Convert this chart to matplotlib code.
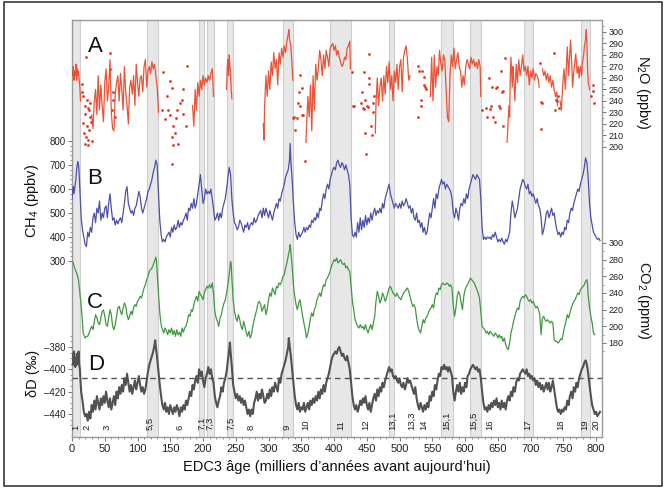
import numpy as np
import matplotlib
matplotlib.use("Agg")
import matplotlib.pyplot as plt
from matplotlib.ticker import FixedLocator, MultipleLocator, NullFormatter, FuncFormatter
from matplotlib.patches import Rectangle

plt.rcParams['font.family'] = ['Liberation Sans', 'DejaVu Sans']
plt.rcParams['mathtext.default'] = 'regular'

# ---------------- data (age in kyr BP) ----------------
interglacials = [(0, 12), (114, 132), (194, 201), (206, 216), (237, 245), (322, 337),
                 (394, 426), (484, 491), (563, 581), (607, 625), (690, 704), (777, 791)]

stage_names = ["1", "2", "3", "5,5", "6", "7,1", "7,3", "7,5", "8", "9", "10", "11", "12",
               "13,1", "13,3", "14", "15,1", "15,5", "16", "17", "18", "19", "20"]
stage_ages = [6, 23, 53, 119, 165, 198, 210, 243, 274, 328, 357, 411, 448,
              489, 518, 537, 572, 613, 638, 695, 746, 782, 800]

dD_reference = -407.5

n2o_segments = [
    [(0, 265), (1, 262), (2, 270), (3, 258), (4, 266), (5, 262), (6, 272), (7, 258), (8, 268),
     (9, 262), (10, 266), (11, 258), (12, 252), (13, 240)],
    [(30, 228), (32, 216), (34, 240), (36, 250), (38, 228), (40, 262), (42, 232), (44, 254),
     (46, 236), (48, 222), (50, 256), (52, 268), (54, 240), (56, 252), (58, 276), (60, 230),
     (62, 216), (64, 214), (66, 246), (68, 256), (70, 262), (72, 240), (74, 264), (76, 250),
     (78, 232), (80, 270), (82, 248), (84, 236), (86, 220), (88, 252), (90, 258), (92, 246),
     (94, 262), (96, 236), (98, 272), (100, 256), (102, 244), (104, 260), (106, 262), (108, 248),
     (110, 270), (112, 276), (114, 252), (116, 266), (118, 270), (120, 264), (122, 274),
     (124, 268), (126, 272), (128, 262), (130, 252), (131, 242), (132, 230)],
    [(184, 236), (186, 218), (188, 250), (190, 232), (192, 256), (194, 244), (196, 258),
     (198, 250), (200, 262), (202, 254), (204, 260), (206, 256), (208, 262), (210, 258),
     (212, 264), (214, 268), (215, 258), (216, 244)],
    [(236, 250), (237, 270), (238, 276), (239, 262), (240, 280), (241, 270), (242, 264),
     (243, 250), (244, 242)],
    [(292, 220), (293, 206), (294, 236), (296, 262), (298, 244), (300, 266), (302, 250),
     (304, 274), (306, 262), (308, 282), (310, 268), (312, 276), (314, 254), (316, 282),
     (318, 272), (320, 286), (322, 278), (324, 288), (326, 282), (328, 292), (330, 298),
     (331, 302), (332, 294), (334, 288), (336, 270), (337, 258)],
    [(357, 204), (358, 218), (360, 244), (362, 226), (364, 254), (366, 214), (368, 262),
     (370, 232), (372, 272), (374, 258), (376, 268), (378, 284), (380, 276), (382, 262),
     (384, 280), (386, 268), (388, 284), (390, 278), (392, 270), (394, 286), (396, 288),
     (398, 290), (400, 284), (402, 288), (404, 280), (406, 284), (408, 278), (410, 274),
     (412, 270), (414, 272), (416, 278), (418, 276), (420, 286), (422, 288), (424, 292),
     (425, 268)],
    [(463, 212), (464, 238), (466, 260), (468, 236), (470, 252), (472, 260), (474, 240),
     (476, 262), (478, 246), (480, 270), (482, 256), (484, 274), (486, 250), (488, 262),
     (490, 240), (492, 266), (494, 256), (496, 272), (498, 250), (500, 270), (502, 276),
     (504, 248), (506, 278), (508, 284), (510, 288), (512, 276), (514, 258), (516, 262)],
    [(547, 244), (549, 278), (551, 240), (553, 280), (555, 252), (557, 270), (559, 262),
     (561, 284), (563, 272), (565, 266), (567, 280), (569, 276), (571, 252), (573, 226),
     (575, 222), (577, 262), (579, 280), (581, 270), (583, 286), (585, 268), (587, 276),
     (589, 282), (591, 270), (593, 266), (595, 252), (597, 262), (599, 254), (601, 270),
     (603, 276), (605, 272), (607, 268), (609, 278), (611, 272), (613, 276), (615, 270),
     (617, 274), (619, 268), (621, 276), (623, 270), (624, 244)],
    [(664, 204), (665, 214), (667, 236), (668, 226), (669, 262), (670, 278), (672, 252),
     (673, 270), (674, 262), (676, 240), (678, 272), (680, 256), (682, 276), (684, 262),
     (686, 270), (688, 280), (690, 266), (692, 270), (694, 262), (696, 270), (698, 254),
     (700, 266), (702, 260), (704, 268), (706, 258), (708, 264), (710, 262), (712, 258),
     (713, 252)],
    [(718, 268), (720, 262), (722, 266), (724, 258), (726, 264), (728, 256), (730, 262),
     (732, 252), (734, 258), (736, 250), (738, 244), (740, 248), (741, 236)],
    [(745, 240), (747, 232), (749, 254), (751, 268), (753, 250), (755, 276), (756, 287),
     (758, 262), (760, 282), (761, 293), (763, 270), (764, 252), (766, 266), (768, 276),
     (769, 281), (771, 264), (773, 270), (774, 260), (776, 270), (778, 262), (779, 273),
     (781, 280), (782, 287), (784, 294), (785, 302), (786, 290), (787, 268), (788, 256),
     (790, 250)],
]

n2o_isolated = [
    (14.8, 255), (17.3, 244), (22.4, 241), (24.9, 234), (19.8, 229), (27.5, 226), (17.3, 221),
    (23.4, 218), (26.5, 215), (21.4, 209), (24.9, 206), (19.8, 203), (24.9, 202), (21.4, 278),
    (16, 248), (20, 236), (26, 232), (29, 222), (18, 212), (28, 238), (31, 205),
    (58, 282), (58, 268), (63, 248), (63, 241), (60.6, 232), (65.6, 226),
    (139.4, 265), (149.6, 257), (152, 251), (144.6, 244), (137, 232), (142, 224), (147, 232),
    (160, 232), (154.7, 218), (157, 212), (152, 209), (153.7, 202), (162, 203), (152, 185),
    (167.5, 241), (169, 250), (175, 270), (170, 229), (165, 238), (174, 218), (158.8, 225),
    (150, 228),
    (348, 263), (350.7, 251), (347, 248), (345.5, 238), (348, 236), (351.6, 228), (343, 225),
    (339.4, 226), (340.5, 215), (355.7, 188), (338, 225), (353, 228),
    (453, 281), (446, 265), (453, 260), (454, 255), (443, 248), (447, 241), (441.7, 238),
    (430, 236), (444, 234), (446, 233), (450, 236), (452, 235), (460.6, 244), (459, 238),
    (459, 230), (457, 218), (458, 210), (448, 212), (449, 194), (427.5, 265), (429.5, 236),
    (528, 270), (530, 266), (535, 266), (539, 252), (538, 254), (532, 241), (533, 236),
    (528, 226), (537, 261), (541, 250),
    (626, 232), (633, 226), (636.7, 260), (641.7, 252), (646.8, 251), (639, 236), (638, 233),
    (645, 222), (652, 236), (653, 234), (654.5, 266), (657, 248), (660.6, 277), (658, 249),
    (658.5, 218), (648, 252), (643, 226), (632, 234),
    (714.5, 273), (716.5, 239), (718, 238), (715.5, 216), (736, 282), (738.5, 241),
    (737, 232), (740, 240), (744, 234), (742, 244),
    (792, 244), (794.5, 249), (796, 254), (797, 238),
]

ch4_record = [
    (0, 560), (1, 590), (2, 610), (3, 580), (4, 600), (5, 620), (6, 640), (7, 680), (8, 700),
    (9, 715), (10, 700), (11, 660), (12, 600), (13, 530), (14, 480), (16, 430), (18, 400),
    (20, 370), (22, 360), (24, 420), (26, 400), (28, 440), (30, 420), (32, 480), (34, 500),
    (36, 460), (38, 520), (40, 500), (42, 550), (44, 470), (46, 500), (48, 480), (50, 520),
    (52, 530), (54, 480), (56, 540), (58, 580), (60, 520), (62, 470), (64, 480), (66, 450),
    (68, 470), (70, 455), (72, 470), (74, 480), (76, 460), (78, 500), (80, 540), (82, 590),
    (84, 610), (86, 540), (88, 520), (90, 500), (92, 510), (94, 490), (96, 520), (98, 530),
    (100, 560), (102, 590), (104, 570), (106, 520), (108, 500), (110, 520), (112, 540),
    (114, 560), (116, 590), (118, 600), (120, 620), (122, 640), (124, 670), (126, 690),
    (128, 720), (130, 700), (132, 580), (134, 470), (136, 410), (138, 380), (140, 390),
    (142, 380), (144, 400), (146, 410), (148, 420), (150, 400), (152, 440), (154, 420),
    (156, 450), (158, 430), (160, 440), (162, 470), (164, 440), (166, 460), (168, 450),
    (170, 470), (172, 480), (174, 500), (176, 470), (178, 520), (180, 510), (182, 540),
    (184, 520), (186, 560), (188, 520), (190, 540), (192, 580), (194, 620), (196, 660),
    (198, 600), (200, 540), (202, 560), (204, 600), (206, 580), (208, 590), (210, 580),
    (212, 600), (214, 560), (216, 520), (218, 470), (220, 480), (222, 500), (224, 470),
    (226, 500), (228, 480), (230, 520), (232, 540), (234, 560), (236, 600), (238, 650),
    (240, 690), (242, 660), (244, 560), (246, 500), (248, 460), (250, 450), (252, 430),
    (254, 440), (256, 470), (258, 460), (260, 440), (262, 420), (264, 450), (266, 440),
    (268, 460), (270, 430), (272, 450), (274, 460), (276, 450), (278, 480), (280, 460),
    (282, 470), (284, 490), (286, 500), (288, 510), (290, 480), (292, 520), (294, 490),
    (296, 520), (298, 500), (300, 480), (302, 510), (304, 490), (306, 470), (308, 500),
    (310, 520), (312, 540), (314, 520), (316, 560), (318, 550), (320, 580), (322, 600),
    (324, 620), (326, 650), (328, 665), (330, 680), (332, 720), (333, 790), (334, 720),
    (336, 640), (338, 540), (340, 460), (342, 410), (344, 390), (346, 420), (348, 400),
    (350, 410), (352, 420), (354, 440), (356, 420), (358, 440), (360, 430), (362, 450),
    (364, 440), (366, 470), (368, 460), (370, 480), (372, 470), (374, 500), (376, 480),
    (378, 520), (380, 510), (382, 550), (384, 580), (386, 560), (388, 600), (390, 620),
    (392, 600), (394, 640), (396, 660), (398, 680), (400, 690), (402, 680), (404, 710),
    (406, 720), (408, 700), (410, 690), (412, 710), (414, 700), (416, 680), (418, 700),
    (420, 680), (422, 660), (424, 620), (426, 480), (428, 410), (430, 400), (432, 420),
    (434, 400), (436, 460), (438, 420), (440, 480), (442, 430), (444, 470), (446, 440),
    (448, 490), (450, 450), (452, 480), (454, 460), (456, 500), (458, 470), (460, 500),
    (462, 520), (464, 490), (466, 510), (468, 500), (470, 520), (472, 500), (474, 540),
    (476, 520), (478, 560), (480, 580), (482, 600), (484, 620), (486, 580), (488, 560),
    (490, 540), (492, 520), (494, 540), (496, 530), (498, 520), (500, 540), (502, 520),
    (504, 550), (506, 530), (508, 540), (510, 560), (512, 540), (514, 520), (516, 530),
    (518, 500), (520, 520), (522, 480), (524, 470), (526, 500), (528, 460), (530, 470),
    (532, 440), (534, 460), (536, 420), (538, 440), (540, 410), (542, 420), (544, 460),
    (546, 500), (548, 480), (550, 520), (552, 560), (554, 520), (556, 580), (558, 560),
    (560, 600), (562, 620), (564, 640), (566, 620), (568, 630), (570, 600), (572, 620),
    (574, 610), (576, 600), (578, 590), (580, 560), (582, 500), (584, 480), (586, 520),
    (588, 500), (590, 470), (592, 520), (594, 540), (596, 530), (598, 560), (600, 540),
    (602, 580), (604, 560), (606, 600), (608, 620), (610, 640), (612, 660), (614, 650),
    (616, 640), (618, 660), (620, 650), (622, 640), (624, 560), (626, 440), (628, 390),
    (630, 400), (632, 390), (634, 400), (636, 395), (638, 400), (640, 390), (642, 410),
    (644, 400), (646, 420), (648, 400), (650, 380), (652, 390), (654, 380), (656, 395),
    (658, 380), (660, 370), (662, 390), (664, 380), (666, 400), (668, 420), (670, 500),
    (672, 550), (674, 520), (676, 480), (678, 500), (680, 520), (682, 560), (684, 600),
    (686, 620), (688, 640), (690, 630), (692, 610), (694, 600), (696, 620), (698, 580),
    (700, 590), (702, 570), (704, 580), (706, 560), (708, 540), (710, 560), (712, 530),
    (714, 520), (716, 480), (718, 410), (720, 430), (722, 460), (724, 500), (726, 510),
    (728, 480), (730, 500), (732, 520), (734, 490), (736, 500), (738, 460), (740, 430),
    (742, 410), (744, 420), (746, 400), (748, 420), (750, 410), (752, 440), (754, 430),
    (756, 470), (758, 460), (760, 500), (762, 520), (764, 510), (766, 540), (768, 560),
    (770, 580), (772, 600), (774, 590), (776, 620), (778, 640), (780, 660), (782, 690),
    (784, 730), (786, 710), (788, 640), (790, 540), (792, 480), (794, 450), (796, 420),
    (798, 410), (800, 400), (802, 390), (804, 395), (806, 385),
]

co2_record = [
    (0, 278), (2, 276), (4, 270), (6, 266), (8, 262), (10, 255), (12, 240), (14, 225),
    (16, 205), (17, 192), (18, 190), (20, 186), (22, 188), (24, 188), (26, 192), (28, 196),
    (30, 200), (32, 196), (34, 206), (36, 214), (38, 210), (40, 204), (42, 202), (44, 210),
    (46, 218), (48, 220), (50, 212), (52, 202), (54, 200), (56, 210), (58, 220), (60, 214),
    (62, 200), (64, 196), (66, 202), (68, 212), (70, 222), (72, 224), (74, 218), (76, 214),
    (78, 222), (80, 228), (82, 224), (84, 214), (86, 208), (88, 212), (90, 218), (92, 214),
    (94, 222), (96, 226), (98, 224), (100, 230), (102, 232), (104, 236), (106, 234),
    (108, 240), (110, 246), (112, 250), (114, 256), (116, 260), (118, 266), (120, 268),
    (122, 270), (124, 274), (126, 278), (128, 283), (129, 278), (130, 264), (132, 240),
    (134, 216), (136, 202), (138, 196), (140, 192), (142, 198), (144, 195), (146, 190),
    (148, 196), (150, 192), (152, 198), (154, 190), (156, 195), (158, 188), (160, 196),
    (162, 190), (164, 193), (166, 188), (168, 198), (170, 193), (172, 198), (174, 200),
    (176, 206), (178, 214), (180, 212), (182, 220), (184, 218), (186, 226), (188, 232),
    (190, 236), (192, 230), (194, 242), (196, 238), (198, 236), (200, 232), (202, 240),
    (204, 244), (206, 248), (208, 246), (210, 250), (212, 246), (214, 252), (216, 240),
    (218, 218), (220, 210), (222, 206), (224, 200), (226, 210), (228, 214), (230, 222),
    (232, 228), (234, 232), (236, 240), (238, 250), (240, 262), (242, 278), (243, 275),
    (244, 258), (246, 232), (248, 218), (250, 210), (252, 206), (254, 214), (256, 208),
    (258, 200), (260, 196), (262, 206), (264, 200), (266, 192), (268, 188), (270, 194),
    (272, 186), (274, 190), (276, 200), (278, 208), (280, 214), (282, 220), (284, 228),
    (286, 230), (288, 226), (290, 218), (292, 222), (294, 226), (296, 214), (298, 220),
    (300, 232), (302, 240), (304, 236), (306, 246), (308, 242), (310, 238), (312, 248),
    (314, 246), (316, 252), (318, 250), (320, 254), (322, 260), (324, 262), (326, 270),
    (328, 276), (330, 284), (332, 292), (333, 298), (334, 290), (336, 272), (338, 250),
    (340, 236), (342, 226), (344, 220), (346, 228), (348, 232), (350, 222), (352, 212),
    (354, 204), (356, 196), (358, 186), (360, 192), (362, 200), (364, 210), (366, 216),
    (368, 212), (370, 220), (372, 224), (374, 232), (376, 236), (378, 240), (380, 236),
    (382, 244), (384, 250), (386, 248), (388, 256), (390, 258), (392, 262), (394, 266),
    (396, 272), (398, 276), (400, 280), (402, 278), (404, 282), (406, 276), (408, 278),
    (410, 280), (412, 276), (414, 274), (416, 276), (418, 270), (420, 272), (422, 268),
    (424, 266), (426, 248), (428, 230), (430, 220), (432, 208), (434, 204), (436, 200),
    (438, 198), (440, 202), (442, 198), (444, 200), (446, 196), (448, 202), (450, 196),
    (452, 192), (454, 198), (456, 202), (458, 196), (460, 204), (462, 212), (464, 230),
    (466, 242), (468, 236), (470, 228), (472, 232), (474, 240), (476, 236), (478, 230),
    (480, 234), (482, 240), (484, 246), (486, 248), (488, 244), (490, 240), (492, 238),
    (494, 236), (496, 240), (498, 236), (500, 234), (502, 232), (504, 236), (506, 240),
    (508, 242), (510, 244), (512, 246), (514, 242), (516, 236), (518, 230), (520, 224),
    (522, 226), (524, 222), (526, 210), (528, 200), (530, 195), (532, 192), (534, 200),
    (536, 208), (538, 204), (540, 210), (542, 212), (544, 216), (546, 220), (548, 222),
    (550, 226), (552, 222), (554, 234), (556, 240), (558, 238), (560, 246), (562, 244),
    (564, 250), (566, 252), (568, 250), (570, 250), (572, 252), (574, 251), (576, 248),
    (578, 250), (580, 246), (582, 225), (584, 212), (586, 222), (588, 236), (590, 242),
    (592, 238), (594, 228), (596, 220), (598, 236), (600, 244), (602, 248), (604, 250),
    (606, 254), (608, 258), (610, 256), (612, 254), (614, 252), (616, 248), (618, 244),
    (620, 240), (622, 234), (624, 218), (626, 200), (628, 198), (630, 196), (632, 192),
    (634, 194), (636, 190), (638, 194), (640, 192), (642, 190), (644, 188), (646, 192),
    (648, 190), (650, 186), (652, 190), (654, 186), (656, 188), (658, 182), (660, 186),
    (662, 178), (664, 174), (666, 172), (668, 180), (670, 192), (672, 198), (674, 206),
    (676, 212), (678, 218), (680, 222), (682, 220), (684, 230), (686, 234), (688, 236),
    (690, 234), (692, 238), (694, 236), (696, 232), (698, 230), (700, 232), (702, 228),
    (704, 230), (706, 226), (708, 222), (710, 224), (712, 220), (714, 214), (716, 190),
    (718, 210), (720, 212), (722, 208), (724, 206), (726, 208), (728, 206), (730, 204),
    (732, 206), (734, 204), (736, 184), (738, 182), (740, 182), (742, 180), (744, 182),
    (746, 185), (748, 184), (750, 192), (752, 200), (754, 206), (756, 214), (758, 210),
    (760, 216), (762, 222), (764, 226), (766, 230), (768, 232), (770, 236), (772, 240),
    (774, 238), (776, 244), (778, 246), (780, 248), (782, 250), (784, 254), (786, 256),
    (787, 250), (788, 236), (790, 222), (792, 212), (794, 204), (796, 192), (798, 190),
]

dD_record = [
    (0, -392), (1, -386), (2, -396), (3, -384), (4, -388), (5, -398), (6, -390), (7, -396),
    (8, -386), (9, -394), (10, -384), (11, -396), (12, -400), (13, -410), (14, -420),
    (16, -428), (18, -438), (20, -442), (22, -440), (24, -446), (26, -438), (28, -444),
    (30, -432), (32, -438), (34, -428), (36, -436), (38, -424), (40, -430), (42, -436),
    (44, -426), (46, -432), (48, -424), (50, -430), (52, -420), (54, -428), (56, -434),
    (58, -426), (60, -436), (62, -430), (64, -424), (66, -432), (68, -420), (70, -426),
    (72, -416), (74, -422), (76, -414), (78, -420), (80, -408), (82, -414), (84, -404),
    (86, -412), (88, -420), (90, -414), (92, -422), (94, -416), (96, -410), (98, -418),
    (100, -412), (102, -406), (104, -414), (106, -420), (108, -416), (110, -422), (112, -418),
    (114, -410), (116, -402), (118, -396), (120, -392), (122, -388), (124, -384), (126, -378),
    (127, -374), (128, -380), (130, -390), (132, -402), (134, -414), (136, -424), (138, -432),
    (140, -436), (142, -430), (144, -438), (146, -434), (148, -440), (150, -432), (152, -436),
    (154, -440), (156, -434), (158, -438), (160, -432), (162, -436), (164, -442), (166, -434),
    (168, -438), (170, -432), (172, -436), (174, -428), (176, -432), (178, -426), (180, -420),
    (182, -424), (184, -414), (186, -418), (188, -410), (190, -406), (192, -412), (194, -400),
    (196, -406), (198, -402), (200, -410), (202, -416), (204, -408), (206, -404), (208, -398),
    (210, -404), (212, -400), (214, -408), (216, -412), (218, -424), (220, -430), (222, -434),
    (224, -428), (226, -424), (228, -416), (230, -420), (232, -412), (234, -408), (236, -402),
    (238, -392), (240, -382), (241, -376), (242, -384), (244, -398), (246, -414), (248, -420),
    (250, -426), (252, -422), (254, -428), (256, -424), (258, -430), (260, -426), (262, -432),
    (264, -428), (266, -434), (268, -440), (270, -436), (272, -442), (274, -436), (276, -440),
    (278, -430), (280, -426), (282, -420), (284, -428), (286, -422), (288, -426), (290, -418),
    (292, -424), (294, -430), (296, -428), (298, -422), (300, -426), (302, -418), (304, -424),
    (306, -416), (308, -420), (310, -412), (312, -416), (314, -420), (316, -408), (318, -412),
    (320, -404), (322, -400), (324, -396), (326, -392), (328, -386), (330, -380), (331, -372),
    (332, -378), (334, -388), (336, -400), (338, -412), (340, -424), (342, -432), (344, -436),
    (346, -430), (348, -438), (350, -434), (352, -436), (354, -430), (356, -438), (358, -434),
    (360, -430), (362, -436), (364, -428), (366, -432), (368, -426), (370, -430), (372, -424),
    (374, -428), (376, -420), (378, -426), (380, -418), (382, -422), (384, -414), (386, -420),
    (388, -412), (390, -408), (392, -404), (394, -398), (396, -392), (398, -388), (400, -386),
    (402, -384), (404, -386), (406, -382), (408, -380), (410, -384), (412, -388), (414, -386),
    (416, -390), (418, -392), (420, -388), (422, -394), (424, -400), (426, -412), (428, -424),
    (430, -432), (432, -436), (434, -432), (436, -438), (438, -434), (440, -428), (442, -432),
    (444, -426), (446, -430), (448, -424), (450, -432), (452, -436), (454, -430), (456, -438),
    (458, -432), (460, -426), (462, -422), (464, -428), (466, -418), (468, -424), (470, -416),
    (472, -420), (474, -412), (476, -416), (478, -410), (480, -406), (482, -402), (484, -398),
    (486, -402), (488, -400), (490, -406), (492, -408), (494, -406), (496, -410), (498, -412),
    (500, -408), (502, -414), (504, -416), (506, -412), (508, -418), (510, -414), (512, -408),
    (514, -412), (516, -410), (518, -414), (520, -418), (522, -422), (524, -416), (526, -426),
    (528, -432), (530, -436), (532, -430), (534, -434), (536, -438), (538, -432), (540, -436),
    (542, -430), (544, -434), (546, -424), (548, -428), (550, -420), (552, -424), (554, -414),
    (556, -418), (558, -410), (560, -404), (562, -406), (564, -398), (566, -400), (568, -396),
    (570, -400), (572, -398), (574, -402), (576, -398), (578, -402), (580, -406), (582, -420),
    (584, -428), (586, -420), (588, -414), (590, -420), (592, -412), (594, -422), (596, -416),
    (598, -420), (600, -412), (602, -416), (604, -406), (606, -404), (608, -400), (610, -398),
    (612, -396), (614, -398), (616, -400), (618, -398), (620, -402), (622, -400), (624, -408),
    (626, -420), (628, -430), (630, -436), (632, -434), (634, -438), (636, -432), (638, -436),
    (640, -430), (642, -434), (644, -428), (646, -432), (648, -426), (650, -434), (652, -430),
    (654, -436), (656, -428), (658, -434), (660, -430), (662, -436), (664, -428), (666, -424),
    (668, -428), (670, -420), (672, -424), (674, -416), (676, -420), (678, -412), (680, -408),
    (682, -410), (684, -404), (686, -402), (688, -400), (690, -402), (692, -404), (694, -400),
    (696, -406), (698, -404), (700, -408), (702, -406), (704, -410), (706, -408), (708, -414),
    (710, -410), (712, -416), (714, -412), (716, -418), (718, -414), (720, -420), (722, -416),
    (724, -412), (726, -418), (728, -412), (730, -420), (732, -416), (734, -410), (736, -418),
    (738, -426), (740, -434), (742, -438), (744, -436), (746, -440), (748, -436), (750, -438),
    (752, -434), (754, -436), (756, -428), (758, -432), (760, -424), (762, -420), (764, -426),
    (766, -416), (768, -420), (770, -412), (772, -416), (774, -408), (776, -404), (778, -400),
    (780, -398), (782, -394), (784, -392), (786, -396), (788, -404), (790, -414), (792, -424),
    (794, -432), (796, -436), (798, -440), (800, -438), (802, -442), (804, -440), (806, -438),
]

# ---------------- figure ----------------
W, H = 666, 490
fig = plt.figure(figsize=(W / 100, H / 100), dpi=100)
fig.patch.set_facecolor('white')

# thin frame around the whole figure
fig.add_artist(Rectangle((4 / W, (H - 486) / H), (662 - 4) / W, (486 - 2) / H,
                         transform=fig.transFigure, fill=False, ec='#3a3a3a', lw=1.2))

rect = [72 / W, (H - 437) / H, (602 - 72) / W, (437 - 20) / H]
ax = fig.add_axes(rect)
ax.set_xlim(0, 809)
ax.set_ylim(0, 1)
ax.set_yticks([])
for s in ax.spines.values():
    s.set_color('#9a9a9a')
    s.set_linewidth(1.0)

for a0, a1 in interglacials:
    ax.axvspan(a0, a1, facecolor='#e7e7e7', edgecolor='#cdcdcd', lw=0.8, zorder=0)

ax.xaxis.set_major_locator(MultipleLocator(50))
ax.xaxis.set_minor_locator(MultipleLocator(10))
ax.tick_params(axis='x', which='major', direction='out', length=3, width=0.7,
               color='#777777', labelsize=8, pad=2, labelcolor='#222222')
ax.tick_params(axis='x', which='minor', direction='out', length=1.6, width=0.6,
               color='#777777')
ax.set_xlabel('EDC3 âge (milliers d’années avant aujourd’hui)', fontsize=10.5,
              labelpad=4, color='#111111')

for name, age in zip(stage_names, stage_ages):
    ax.text(age, 0.016, name, rotation=90, ha='center', va='bottom',
            fontsize=6.8, color='#222222', zorder=5)


def overlay(ylim, side):
    a = fig.add_axes(rect, sharex=ax)
    a.set_ylim(*ylim)
    a.patch.set_visible(False)
    for s in a.spines.values():
        s.set_visible(False)
    a.xaxis.set_visible(False)
    a.yaxis.set_ticks_position(side)
    a.yaxis.set_label_position(side)
    return a


def style_ticks(a, major, minor, size):
    a.yaxis.set_major_locator(FixedLocator(major))
    a.yaxis.set_minor_locator(FixedLocator(minor))
    a.yaxis.set_minor_formatter(NullFormatter())
    a.tick_params(axis='y', which='major', direction='out', length=3, width=0.7,
                  color='#777777', labelsize=size, pad=1.5, labelcolor='#222222')
    a.tick_params(axis='y', which='minor', direction='out', length=1.5, width=0.6,
                  color='#888888')


def split(points):
    xs, ys = zip(*points)
    return np.array(xs, float), np.array(ys, float)


# N2O (A)
ax_n2o = overlay((-52.2, 310.4), 'right')
style_ticks(ax_n2o, list(range(200, 301, 10)), list(range(200, 306, 5)), 6.5)
n2o_x, n2o_y = [], []
for seg in n2o_segments:
    sx, sy = split(seg)
    n2o_x += list(sx) + [np.nan]
    n2o_y += list(sy) + [np.nan]
ax_n2o.plot(n2o_x, n2o_y, color='#ea4a2c', lw=0.9, alpha=0.95)
ix, iy = split(n2o_isolated)
ax_n2o.scatter(ix, iy, s=4, color='#e03a20', linewidths=0, zorder=3)

# CH4 (B)
ax_ch4 = overlay((-433.3, 1304.2), 'left')
style_ticks(ax_ch4, list(range(300, 801, 100)), list(range(300, 801, 20)), 7)
cx, cy = split(ch4_record)
ax_ch4.plot(cx, cy, color='#4b50a8', lw=0.9)

# CO2 (C)
ax_co2 = overlay((67.2, 567.6), 'right')
style_ticks(ax_co2, list(range(180, 301, 20)), list(range(170, 301, 10)), 6.5)
gx, gy = split(co2_record)
ax_co2.plot(gx, gy, color='#3f9a40', lw=0.9)

# deuterium (D)
ax_dd = overlay((-460.6, -87.2), 'left')
style_ticks(ax_dd, [-440, -420, -400, -380], list(range(-450, -369, 5)), 7)
ax_dd.axhline(dD_reference, color='#555555', lw=1.0, dashes=(4, 3))
dx, dy = split(dD_record)
ax_dd.plot(dx, dy, color='#525252', lw=1.5)
ax_dd.yaxis.set_major_formatter(FuncFormatter(lambda v, p: '\u2013' + f'{abs(int(v))}'))

# panel letters
for letter, (px, py) in zip('ABCD', [(95, 46), (95, 178), (95, 302), (96, 364)]):
    fig.text(px / W, 1 - py / H, letter, fontsize=16, ha='center', va='center',
             color='#111111')

# axis titles
fig.text(32 / W, 1 - 201 / H, 'CH$_4$ (ppbv)', rotation=90, ha='center', va='center',
         fontsize=10.5, color='#111111')
fig.text(33 / W, 1 - 373 / H, 'δD (‰)', rotation=90, ha='center', va='center',
         fontsize=10.5, color='#111111')
fig.text(643 / W, 1 - 92 / H, 'N$_2$O (ppbv)', rotation=270, ha='center', va='center',
         fontsize=10.5, color='#111111')
fig.text(644 / W, 1 - 300 / H, 'CO$_2$ (ppmv)', rotation=270, ha='center', va='center',
         fontsize=10.5, color='#111111')

fig.savefig('out.png', dpi=100)
